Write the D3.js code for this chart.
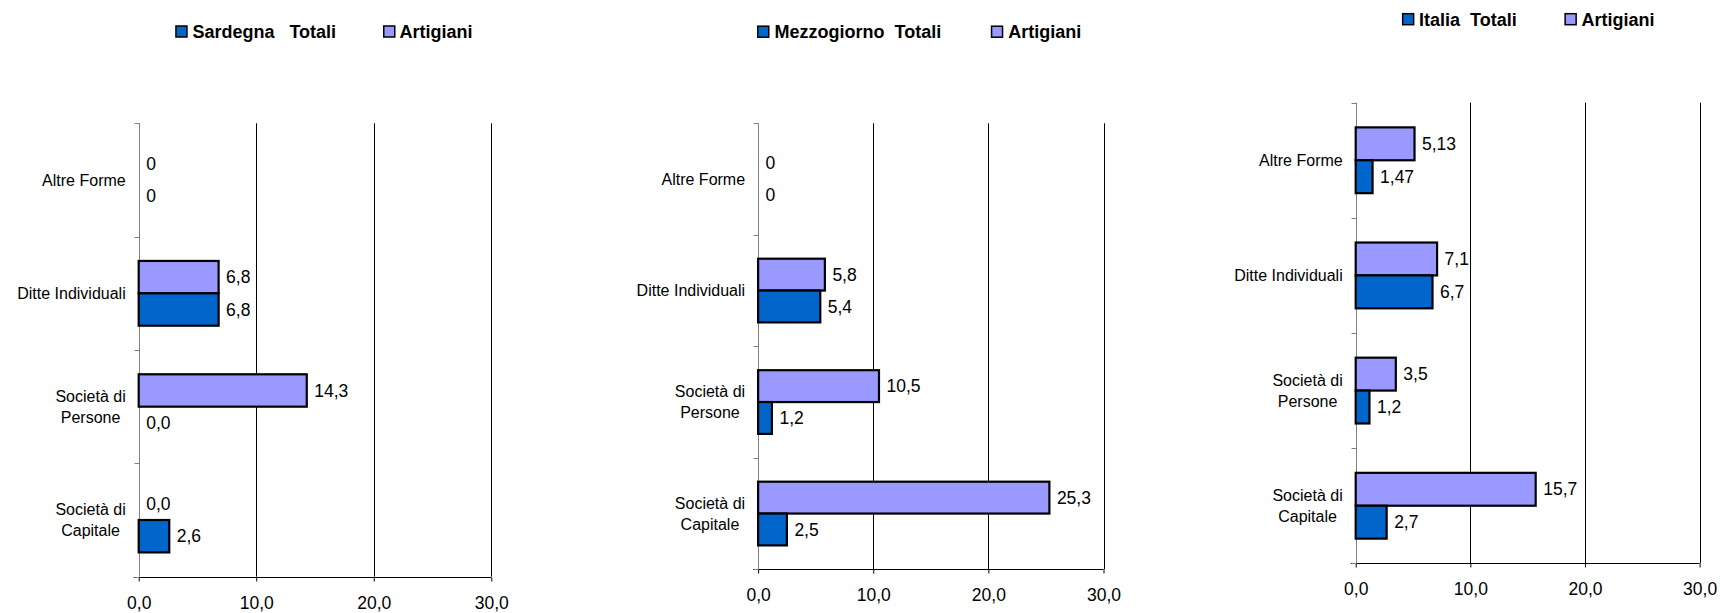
<!DOCTYPE html>
<html>
<head>
<meta charset="utf-8">
<script src="https://cdn.jsdelivr.net/npm/d3@7"></script>
<style>
  html, body { margin: 0; padding: 0; background: #fff; }
  svg { display: block; }
  text { font-family: "Liberation Sans", Arial, sans-serif; fill: #000; }
</style>
</head>
<body>
<svg id="chart" width="1720" height="613"></svg>
<script>
// ---------- DATA ----------
const categories = ["Altre Forme", "Ditte Individuali", "Società di\nPersone", "Società di\nCapitale"];
const seriesKeys = ["Artigiani", "Totali"];
const xTicks = [0, 10, 20, 30];
const xTickLabels = ["0,0", "10,0", "20,0", "30,0"];

const regionNames = ["Sardegna   Totali", "Mezzogiorno  Totali", "Italia  Totali"];
const artigianiLegend = "Artigiani";

const sardegnaTotali = [0, 6.8, 0.0, 2.6];
const sardegnaArtigiani = [0, 6.8, 14.3, 0.0];
const sardegnaTotaliLabels = ["0", "6,8", "0,0", "2,6"];
const sardegnaArtigianiLabels = ["0", "6,8", "14,3", "0,0"];

const mezzogiornoTotali = [0, 5.4, 1.2, 2.5];
const mezzogiornoArtigiani = [0, 5.8, 10.5, 25.3];
const mezzogiornoTotaliLabels = ["0", "5,4", "1,2", "2,5"];
const mezzogiornoArtigianiLabels = ["0", "5,8", "10,5", "25,3"];

const italiaTotali = [1.47, 6.7, 1.2, 2.7];
const italiaArtigiani = [5.13, 7.1, 3.5, 15.7];
const italiaTotaliLabels = ["1,47", "6,7", "1,2", "2,7"];
const italiaArtigianiLabels = ["5,13", "7,1", "3,5", "15,7"];

// ---------- STYLE / LAYOUT ----------
const colors = { Totali: "#0066CC", Artigiani: "#9999FF" };

const panels = [
  { name: regionNames[0], tot: sardegnaTotali, art: sardegnaArtigiani, totL: sardegnaTotaliLabels, artL: sardegnaArtigianiLabels,
    x0: 138.7, x1: 491.3, top: 123.3, bottom: 576.7,
    legY: 31.5, leg1: 175.2, leg1t: 192.4, leg2: 383, leg2t: 399.6 },
  { name: regionNames[1], tot: mezzogiornoTotali, art: mezzogiornoArtigiani, totL: mezzogiornoTotaliLabels, artL: mezzogiornoArtigianiLabels,
    x0: 758.1, x1: 1103.5, top: 123.3, bottom: 569.3,
    legY: 31.7, leg1: 757, leg1t: 774.5, leg2: 990.8, leg2t: 1008.2 },
  { name: regionNames[2], tot: italiaTotali, art: italiaArtigiani, totL: italiaTotaliLabels, artL: italiaArtigianiLabels,
    x0: 1355.7, x1: 1699.6, top: 102.7, bottom: 563.3,
    legY: 19.2, leg1: 1401.9, leg1t: 1419, leg2: 1564.4, leg2t: 1581.5 }
];

const svg = d3.select("#chart");

panels.forEach(p => {
  const g = svg.append("g");
  const x = d3.scaleLinear().domain([0, 30]).range([p.x0, p.x1]);
  const y = d3.scaleBand().domain(categories).range([p.top, p.bottom]).padding(0);
  const ySub = d3.scaleBand().domain(seriesKeys).range([0, y.bandwidth()]).paddingInner(0).paddingOuter(0.75);

  // gridlines
  g.append("g").selectAll("line").data(xTicks.filter(t => t > 0)).join("line")
    .attr("x1", d => Math.round(x(d)) + 0.5).attr("x2", d => Math.round(x(d)) + 0.5)
    .attr("y1", p.top).attr("y2", p.bottom)
    .attr("stroke", "#000").attr("stroke-width", 1);

  // x axis
  const xAxis = d3.axisBottom(x).tickValues(xTicks).tickFormat((d, i) => xTickLabels[i]).tickSize(4).tickPadding(15.5);
  const gx = g.append("g").attr("transform", `translate(0,${Math.round(p.bottom) + 0.5})`).call(xAxis);
  gx.select(".domain").attr("d", `M${p.x0 - 5},0H${p.x1}`).attr("stroke", "#000");
  gx.selectAll(".tick line").attr("stroke", "#000");
  gx.selectAll(".tick text").attr("font-size", 17.5).attr("font-family", "Liberation Sans, Arial, sans-serif").attr("fill", "#000");

  // y axis (gray line, ticks at band boundaries)
  const bounds = categories.map(c => y(c)).concat([p.bottom]);
  const ax = Math.round(p.x0) + 0.5;
  g.append("line").attr("x1", ax).attr("x2", ax).attr("y1", p.top).attr("y2", p.bottom)
    .attr("stroke", "#808080").attr("stroke-width", 1);
  g.append("g").selectAll("line").data(bounds).join("line")
    .attr("x1", ax - 5).attr("x2", ax)
    .attr("y1", d => Math.round(d) + 0.5).attr("y2", d => Math.round(d) + 0.5)
    .attr("stroke", "#808080").attr("stroke-width", 1);

  // category labels
  categories.forEach(c => {
    const lines = c.split("\n");
    const cy = y(c) + y.bandwidth() / 2;
    const lh = 20.7;
    const t = g.append("text").attr("font-size", 16).attr("text-anchor", "middle");
    const tspans = lines.map((ln, i) => t.append("tspan").text(ln)
      .attr("y", cy + (i - (lines.length - 1) / 2) * lh).attr("dy", "0.35em"));
    const w = d3.max(tspans, s => s.node().getComputedTextLength());
    const cx = p.x0 - 13 - w / 2;
    tspans.forEach(s => s.attr("x", cx));
  });

  // bars
  const rows = [];
  categories.forEach((c, i) => {
    rows.push({ cat: c, key: "Artigiani", v: p.art[i], lbl: p.artL[i] });
    rows.push({ cat: c, key: "Totali", v: p.tot[i], lbl: p.totL[i] });
  });
  g.append("g").selectAll("rect").data(rows.filter(r => r.v > 0)).join("rect")
    .attr("x", x(0))
    .attr("y", d => y(d.cat) + ySub(d.key))
    .attr("width", d => x(d.v) - x(0))
    .attr("height", ySub.bandwidth())
    .attr("fill", d => colors[d.key])
    .attr("stroke", "#000").attr("stroke-width", 2.2);

  // value labels
  g.append("g").selectAll("text").data(rows).join("text")
    .attr("x", d => x(d.v) + 7.5)
    .attr("y", d => y(d.cat) + ySub(d.key) + ySub.bandwidth() / 2)
    .attr("dy", "0.35em")
    .attr("font-size", 17.5)
    .text(d => d.lbl);

  // legend
  const legItems = [
    { sq: p.leg1, tx: p.leg1t, label: p.name, color: colors.Totali },
    { sq: p.leg2, tx: p.leg2t, label: artigianiLegend, color: colors.Artigiani }
  ];
  legItems.forEach(li => {
    g.append("rect").attr("x", li.sq + 0.75).attr("y", p.legY - 5.5).attr("width", 11).attr("height", 11)
      .attr("fill", li.color).attr("stroke", "#000").attr("stroke-width", 1.5);
    g.append("text").attr("x", li.tx).attr("y", p.legY).attr("dy", "0.35em")
      .attr("font-size", 18).attr("font-weight", "bold")
      .style("white-space", "pre").attr("xml:space", "preserve")
      .text(li.label);
  });
});
</script>
</body>
</html>
